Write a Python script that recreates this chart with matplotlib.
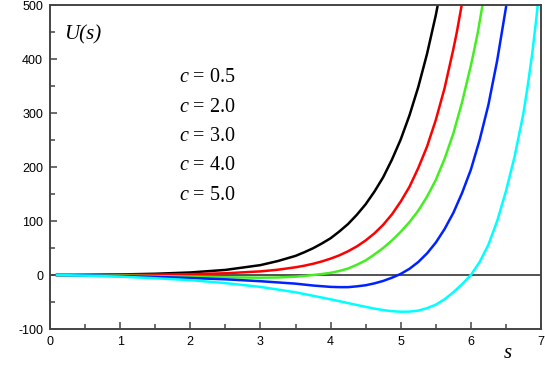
import numpy as np
import matplotlib
matplotlib.use('Agg')
import matplotlib.pyplot as plt
from matplotlib.ticker import MultipleLocator

plt.rcParams['axes.unicode_minus'] = False
plt.rcParams['mathtext.fontset'] = 'custom'
plt.rcParams['mathtext.rm'] = 'Liberation Serif'
plt.rcParams['mathtext.it'] = 'Liberation Serif:italic'

# values
s_black = [0.1, 0.5, 1.0, 1.5, 2.0, 2.5, 3.0, 3.25, 3.5, 3.625, 3.75, 3.875, 4.0, 4.125, 4.25, 4.375,
           4.5, 4.625, 4.75, 4.875, 5.0, 5.125, 5.25, 5.375, 5.5, 5.6]
u_black = [0, 0.3, 1.0, 2.3, 4.7, 9.4, 18.3, 25.9, 35.4, 42.1, 49.5, 58.3, 68, 80.6, 94.5, 111.6,
           131, 154.4, 181, 213.7, 251, 295.7, 348, 409.4, 481, 548]

s_red = [0.1, 0.5, 1.0, 1.5, 2.0, 2.5, 3.0, 3.25, 3.5, 3.625, 3.75, 3.875, 4.0, 4.125, 4.25, 4.375,
         4.5, 4.625, 4.75, 4.875, 5.0, 5.125, 5.25, 5.375, 5.5, 5.625, 5.75, 5.8, 5.9]
u_red = [0, 0.1, 0.3, 0.7, 1.5, 3.2, 6.7, 9.8, 14.3, 17.2, 20.8, 25.1, 30.3, 36.4, 44, 53.0,
         64, 77.1, 93, 112.3, 136, 163.4, 198, 237.7, 287, 345.8, 418, 449.6, 522]

s_green = [0.1, 0.5, 1.0, 1.5, 2.0, 2.5, 3.0, 3.25, 3.5, 3.625, 3.75, 3.875, 4.0, 4.125, 4.25, 4.375,
           4.5, 4.625, 4.75, 4.875, 5.0, 5.125, 5.25, 5.375, 5.5, 5.625, 5.75, 5.875, 6.0, 6.05, 6.1, 6.2]
u_green = [0, -0.3, -1.0, -2.0, -3.0, -4.2, -5.0, -4.6, -3.2, -1.8, 0, 1.8, 4, 7.5, 12, 19,
           27, 38, 50, 64, 80, 98, 119, 145, 176, 215, 262, 320, 388, 418, 450, 525]

s_blue = [0.1, 0.5, 1.0, 1.5, 2.0, 2.5, 3.0, 3.5, 3.75, 4.0, 4.125, 4.25, 4.375, 4.5, 4.625, 4.75,
          4.875, 5.0, 5.125, 5.25, 5.375, 5.5, 5.625, 5.75, 5.875, 6.0, 6.125, 6.25, 6.375, 6.5, 6.55]
u_blue = [0, -0.8, -2.0, -3.5, -5.5, -8, -11.5, -16, -19.5, -22, -22.5, -22.5, -21, -19, -15.5, -11,
          -5, 2, 11.5, 24, 40, 60, 85, 115, 152, 195, 250, 315, 397, 495, 535]

s_cyan = [0.1, 0.5, 1.0, 1.5, 2.0, 2.5, 3.0, 3.5, 4.0, 4.25, 4.5, 4.625, 4.75, 4.875, 5.0, 5.125, 5.25,
          5.375, 5.5, 5.625, 5.75, 5.875, 6.0, 6.125, 6.25, 6.375, 6.5, 6.625, 6.75, 6.8125, 6.875,
          6.9375, 7.0]
u_cyan = [0, -1.2, -3, -6, -9.5, -15, -22, -32, -45, -52, -59, -62.2, -65, -67, -68, -67.8, -66,
          -61.5, -55, -45, -32, -17, 0, 24, 56, 100, 155, 220, 300, 352, 410, 480, 558]

labels = ['0.5', '2.0', '3.0', '4.0', '5.0']
colors = ['black', '#ff0000', '#44ee22', '#0022ff', '#00ffff']

fig = plt.figure(figsize=(5.45, 3.66), dpi=100)
ax = fig.add_axes([50/545, 37/366, 491/545, 324/366])

ax.axhline(0, color='#444444', lw=1.3, zorder=1)
curves = [(s_black, u_black), (s_red, u_red), (s_green, u_green), (s_blue, u_blue), (s_cyan, u_cyan)]
for (s, u), col in zip(curves, colors):
    ax.plot(s, u, color=col, lw=1.8, solid_joinstyle='round', zorder=2)

ax.set_xlim(0, 7)
ax.set_ylim(-100, 500)
ax.xaxis.set_major_locator(MultipleLocator(1))
ax.xaxis.set_minor_locator(MultipleLocator(0.5))
ax.yaxis.set_major_locator(MultipleLocator(100))
ax.yaxis.set_minor_locator(MultipleLocator(50))
ax.tick_params(which='both', direction='in', color='#444444', width=1.1,
               labelsize=9, labelfontfamily='Liberation Sans')
ax.tick_params(which='major', length=5, pad=5)
ax.tick_params(which='minor', length=3.5)
for sp in ax.spines.values():
    sp.set_color('#444444')
    sp.set_linewidth(1.4)

ax.text(0.2, 445, 'U(s)', family='Liberation Serif', style='italic', fontsize=15, va='center')
label_y = [365, 311, 256, 202, 148]
for lab, y in zip(labels, label_y):
    ax.text(1.84, y, '$c$ = ' + lab, family='Liberation Serif', fontsize=14.5, va='center')

fig.text(508/545, 1 - 354/366, 's', family='Liberation Serif', style='italic', fontsize=15,
         ha='center', va='center')

fig.savefig('out.png', dpi=100)
